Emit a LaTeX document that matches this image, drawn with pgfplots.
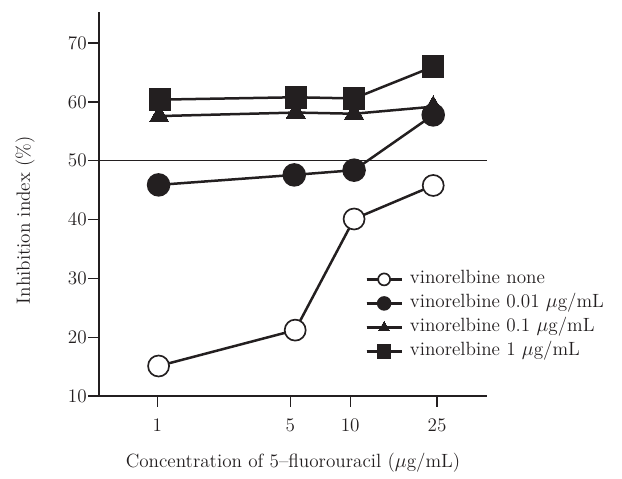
\documentclass[border=0pt]{standalone}
\usepackage{fontspec}
\usepackage{pgfplots}
\pgfplotsset{compat=1.18}

\definecolor{ink}{RGB}{35,31,32}

\begin{document}
\begin{tikzpicture}
    \begin{axis}[
        at={(0pt,0pt)}, anchor=south west,
        scale only axis,
        width=232.44pt, height=230.4pt,
        xmin=-0.3, xmax=1.707,
        ymin=10, ymax=75.3,
        axis x line=bottom, axis y line=left,
        axis line style={-, line width=1.3pt, ink},
        tick align=outside,
        major tick length=6.5pt,
        tick style={line width=0.8pt, ink},
        % x positions follow the original's near-log spacing
        xtick={0,0.69,1,1.45},
        xticklabels={1,5,10,25},
        ytick={10,20,30,40,50,60,70},
        /pgf/number format/assume math mode=true,
        tick label style={font=\fontsize{11.5}{13}\selectfont, text=ink},
        yticklabel style={xshift=2.5pt},
        xticklabel style={yshift=-3.5pt},
        every axis x label/.style={at={(0.5,-0.1745)}, anchor=center},
        every axis y label/.style={at={(-0.1918,0.458)}, anchor=center, rotate=90},
        label style={font=\fontsize{11.5}{13}\selectfont, text=ink},
        xlabel={Concentration of 5--fluorouracil\,\,($\mu$g/mL)},
        ylabel={Inhibition index\,\,(\%)},
        clip=false,
        reverse legend,
        legend cell align=left,
        legend image code/.code={%
            \draw[#1, mark=none] (0pt,0pt) -- (21pt,0pt);
            \draw[#1, mark size=3.6pt, mark repeat=3, mark phase=2]
                plot coordinates {(0pt,0pt) (10.5pt,0pt) (21pt,0pt)};
        },
        legend style={draw=none, fill=none, inner sep=0pt,
            at={(0.686,0.324)}, anchor=north west,
            font=\fontsize{11.5}{13}\selectfont, text=ink,
            nodes={inner sep=0pt, text height=7pt, text depth=2pt},
            row sep=5.4pt,
            /tikz/every odd column/.style={column sep=4.2pt}},
    ]
    % 50% reference line
    \addplot[ink, line width=0.8pt, forget plot] coordinates {(-0.3,50) (1.707,50)};

    % vinorelbine 1 ug/mL
    \addplot[ink, line width=1.5pt, mark=square*, mark size=6pt,
        mark options={fill=ink, draw=ink}] coordinates {
        (0.015,60.4) (0.718,60.8) (1.02,60.6) (1.43,66.0)
    };
    \addlegendentry{vinorelbine 1 $\mu$g/mL}

    % vinorelbine 0.1 ug/mL
    \addplot[ink, line width=1.5pt, mark=triangle*, mark size=6.6pt,
        mark options={fill=ink, draw=ink, line width=0pt}] coordinates {
        (0.01,57.6) (0.718,58.2) (1.02,58.0) (1.43,59.2)
    };
    \addlegendentry{vinorelbine 0.1 $\mu$g/mL}

    % vinorelbine 0.01 ug/mL
    \addplot[ink, line width=1.5pt, mark=*, mark size=6.3pt,
        mark options={fill=ink, draw=ink}] coordinates {
        (0.007,45.9) (0.71,47.6) (1.02,48.4) (1.43,57.8)
    };
    \addlegendentry{vinorelbine 0.01 $\mu$g/mL}

    % vinorelbine none
    \addplot[ink, line width=1.5pt, mark=*, mark size=6.3pt,
        mark options={fill=white, draw=ink, line width=1pt}] coordinates {
        (0.007,15.1) (0.715,21.2) (1.02,40.1) (1.43,45.8)
    };
    \addlegendentry{vinorelbine none}
    \end{axis}
    \path[use as bounding box] (-59.58pt,-47.4pt) rectangle (313.62pt,237.6pt);
\end{tikzpicture}
\end{document}
